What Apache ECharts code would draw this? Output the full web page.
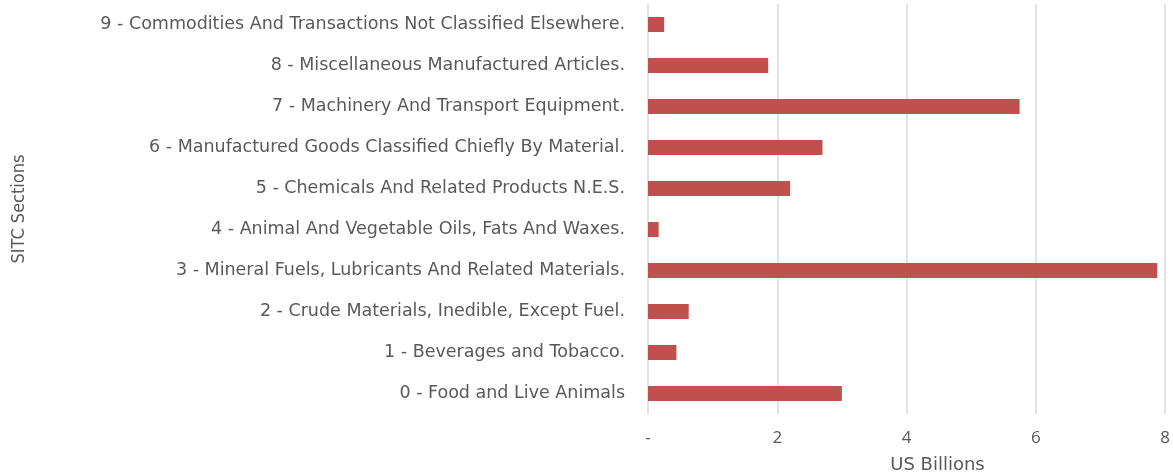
<!DOCTYPE html>
<html>
<head>
<meta charset="utf-8">
<style>
    html, body { margin: 0; padding: 0; background: #fff; }
    #chart { width: 1173px; height: 476px; }
</style>
<script src="https://cdn.jsdelivr.net/npm/echarts@6/dist/echarts.min.js"></script>
</head>
<body>
<div id="chart"></div>
<script>
// SITC sections, bottom to top
var categories = [
    '0 - Food and Live Animals',
    '1 - Beverages and Tobacco.',
    '2 - Crude Materials, Inedible, Except Fuel.',
    '3 - Mineral Fuels, Lubricants And Related Materials.',
    '4 - Animal And Vegetable Oils, Fats And Waxes.',
    '5 - Chemicals And Related Products N.E.S.',
    '6 - Manufactured Goods Classified Chiefly By Material.',
    '7 - Machinery And Transport Equipment.',
    '8 - Miscellaneous Manufactured Articles.',
    '9 - Commodities And Transactions Not Classified Elsewhere.'
];
var values = [3.0, 0.44, 0.63, 7.88, 0.165, 2.2, 2.7, 5.75, 1.86, 0.25];
var xTicks = [0, 2, 4, 6, 8];

var textColor = '#595959';
var myChart = echarts.init(document.getElementById('chart'));

var option = {
    animation: false,
    grid: { left: 648, right: 8, top: 4, bottom: 62, containLabel: false, outerBoundsMode: 'none' },
    xAxis: {
        type: 'value',
        min: xTicks[0],
        max: xTicks[xTicks.length - 1],
        interval: 2,
        name: 'US Billions',
        nameLocation: 'middle',
        nameGap: 42,
        nameTextStyle: { color: textColor, fontSize: 18, fontFamily: 'DejaVu Sans', padding: [0, 0, 0, 62] },
        axisLine: { show: false },
        axisTick: { show: false },
        axisLabel: {
            color: textColor, fontSize: 17, fontFamily: 'Open Sans', margin: 16,
            formatter: function (v) { return v === 0 ? '-' : String(v); }
        },
        splitLine: { show: true, lineStyle: { color: '#d9d9d9', width: 1.5 } }
    },
    yAxis: {
        type: 'category',
        data: categories,
        name: 'SITC Sections',
        nameLocation: 'middle',
        nameGap: 620,
        nameRotate: 90,
        nameTextStyle: { color: textColor, fontSize: 18, fontFamily: '"DejaVu Sans Condensed", Roboto' },
        axisLine: { show: false },
        axisTick: { show: false },
        axisLabel: { color: textColor, fontSize: 17.5, fontFamily: 'DejaVu Sans', margin: 23 }
    },
    series: [{
        type: 'bar',
        data: values,
        barWidth: 15,
        itemStyle: { color: '#c0504d' }
    }]
};
myChart.setOption(option);
</script>
</body>
</html>
